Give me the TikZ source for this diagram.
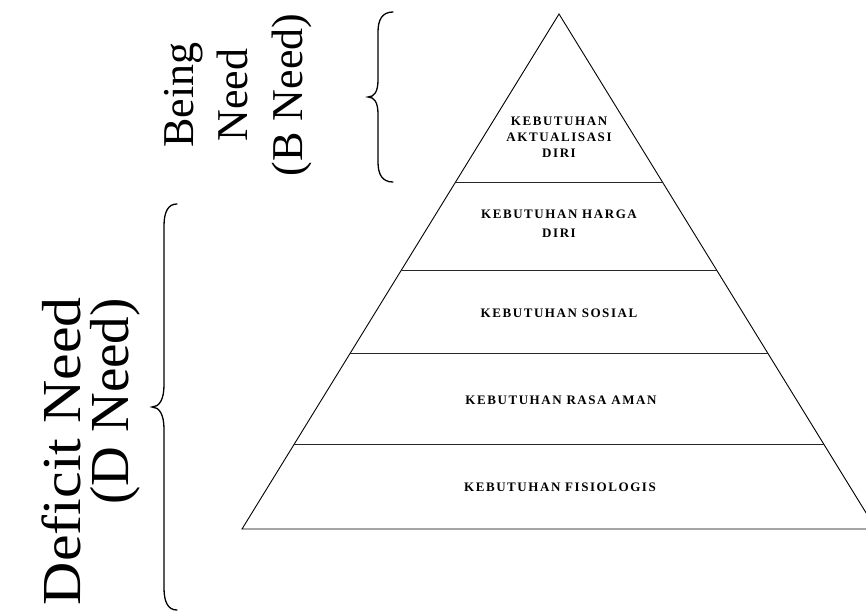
\documentclass[tikz,border=0pt]{standalone}
\usepackage{fontspec}
\setmainfont{Liberation Serif}
\newfontfamily\tierfont{Liberation Serif}[LetterSpace=12]
\usepackage{graphicx}
\usetikzlibrary{calc}

\begin{document}
\begin{tikzpicture}[x=1pt,y=-1pt,
  edge/.style={line width=0.9pt, line join=miter},
  divider/.style={line width=0.9pt, black!85},
  bracepath/.style={line width=1.3pt, line cap=round},
  tierlabel/.style={font=\tierfont\bfseries\fontsize{13}{16}\selectfont, align=center, inner sep=0pt},
  bcaption/.style={inner sep=0pt, rotate=90, anchor=base, font=\fontsize{44}{50}\selectfont},
  dcaption/.style={inner sep=0pt, rotate=90, anchor=base east, font=\fontsize{55}{60}\selectfont}]
\useasboundingbox (0,0) rectangle (866,613);
\clip (0,0) rectangle (866,613);

% pyramid outline
\coordinate (apex) at (559,14);
\coordinate (bl) at (242,529);
\coordinate (br) at (876,529);
\draw[edge] (bl) -- (apex) -- (br) -- cycle;

% horizontal dividers between the levels
\foreach \t/\n in {0.3262/a,0.4971/b,0.6583/c,0.8350/d} {
  \coordinate (l\n) at ($(apex)!\t!(bl)$);
  \coordinate (r\n) at ($(apex)!\t!(br)$);
  \draw[divider] (l\n) -- (r\n);
}

% level labels
\node[tierlabel] (t1) at (559,137) {KEBUTUHAN\\AKTUALISASI\\DIRI};
\node[tierlabel] (t2) at (559,224) {KEBUTUHAN HARGA\\[3pt]DIRI};
\node[tierlabel] (t3) at (559,313) {KEBUTUHAN SOSIAL};
\node[tierlabel] (t4) at (561,400) {KEBUTUHAN RASA AMAN};
\node[tierlabel] (t5) at (560,487) {KEBUTUHAN FISIOLOGIS};

% upper brace
\draw[bracepath] (393,12) .. controls (382,12) and (378,20) .. (378,32)
  -- (378,80) .. controls (378,92) and (374,97) .. (368,97)
  .. controls (374,97) and (378,102) .. (378,114)
  -- (378,162) .. controls (378,174) and (382,182) .. (393,182);

% lower brace
\draw[bracepath] (177,204) .. controls (168,204) and (164,212) .. (164,226)
  -- (164,385) .. controls (164,400) and (159,407) .. (152,407)
  .. controls (159,407) and (164,414) .. (164,429)
  -- (164,588) .. controls (164,602) and (168,610) .. (177,610);

% side captions, one node per line, set on their baselines
\node[bcaption] (b1) at (193,95) {Being};
\node[bcaption] (b2) at (247,95) {Need};
\node[bcaption] (b3) at (302,95) {(B Need)};
\node[dcaption] (d1) at (80,297) {\scalebox{1.09}[1]{Deficit Need}};
\node[dcaption] (d2) at (128,298) {(D Need)};
\end{tikzpicture}
\end{document}
